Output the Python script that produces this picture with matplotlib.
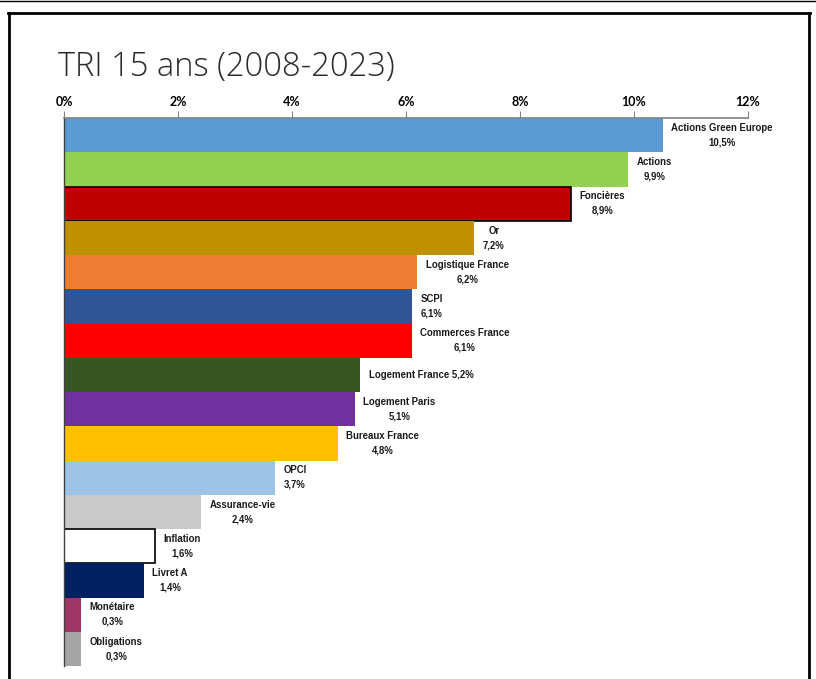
import matplotlib.pyplot as plt
from matplotlib.lines import Line2D

categories = ["Actions Green Europe", "Actions", "Foncières", "Or", "Logistique France",
              "SCPI", "Commerces France", "Logement France", "Logement Paris",
              "Bureaux France", "OPCI", "Assurance-vie", "Inflation", "Livret A",
              "Monétaire", "Obligations"]
values = [10.5, 9.9, 8.9, 7.2, 6.2, 6.1, 6.1, 5.2, 5.1, 4.8, 3.7, 2.4, 1.6, 1.4, 0.3, 0.3]
value_labels = ["10,5%", "9,9%", "8,9%", "7,2%", "6,2%", "6,1%", "6,1%", "5,2%", "5,1%",
                "4,8%", "3,7%", "2,4%", "1,6%", "1,4%", "0,3%", "0,3%"]
colors = ["#5B9BD5", "#92D050", "#C00000", "#BF9000", "#ED7D31", "#2F5597", "#FF0000",
          "#375623", "#7030A0", "#FFC000", "#9DC3E6", "#C9C9C9", "#FFFFFF", "#002060",
          "#9E3766", "#A5A5A5"]
edged = ["Foncières", "Inflation"]
single_line = ["Logement France"]
ticks = [0, 2, 4, 6, 8, 10, 12]

fig = plt.figure(figsize=(8.16, 6.79), dpi=100)
ax = fig.add_axes([64 / 816, 1 - 666 / 679, (748 - 64) / 816, (666 - 118) / 679])

for i, (cat, v, c) in enumerate(zip(categories, values, colors)):
    ec = "black" if cat in edged else c
    lw = 1.2 if cat in edged else 0
    ax.barh(i, v, height=1.0, color=c, edgecolor=ec, linewidth=lw, zorder=2)
    if cat in single_line:
        txt = cat + " " + value_labels[i]
    else:
        txt = cat + "\n" + value_labels[i]
    ax.text(v + 0.15, i, txt, ha="left", va="center", multialignment="center",
            fontsize=6.9, fontweight="bold", linespacing=1.55,
            family=["Liberation Sans Narrow", "Liberation Sans", "DejaVu Sans"],
            color="#1a1a1a")

ax.set_ylim(len(categories) - 0.5, -0.5)
ax.set_xlim(0, 12)
ax.xaxis.tick_top()
ax.set_xticks(ticks)
ax.set_xticklabels([f"{t}%" for t in ticks], fontsize=9, fontweight="bold",
                   family=["Lato", "DejaVu Sans"])
ax.tick_params(axis="x", direction="out", length=5, color="#808080", pad=2)
ax.set_yticks([])
for s in ["right", "bottom"]:
    ax.spines[s].set_visible(False)
ax.spines["top"].set_color("#808080")
ax.spines["top"].set_linewidth(1.2)
ax.spines["left"].set_color("#404040")
ax.spines["left"].set_linewidth(1.0)

fig.text(58 / 816, 1 - 76 / 679, "TRI 15 ans (2008-2023)", fontsize=23.5,
         fontweight="light", family=["Open Sans", "DejaVu Sans"], color="#2a2a2a",
         ha="left", va="baseline")

# cadre
fig.add_artist(Line2D([0, 1], [1 - 0.5 / 679, 1 - 0.5 / 679], transform=fig.transFigure,
                      color="black", lw=1))
fig.add_artist(Line2D([8 / 816, 810 / 816], [1 - 13 / 679, 1 - 13 / 679],
                      transform=fig.transFigure, color="black", lw=2))
fig.add_artist(Line2D([9 / 816, 9 / 816], [0, 1 - 13 / 679],
                      transform=fig.transFigure, color="black", lw=2))
fig.add_artist(Line2D([809 / 816, 809 / 816], [0, 1 - 13 / 679],
                      transform=fig.transFigure, color="black", lw=2))

fig.savefig("out.png", dpi=100)
